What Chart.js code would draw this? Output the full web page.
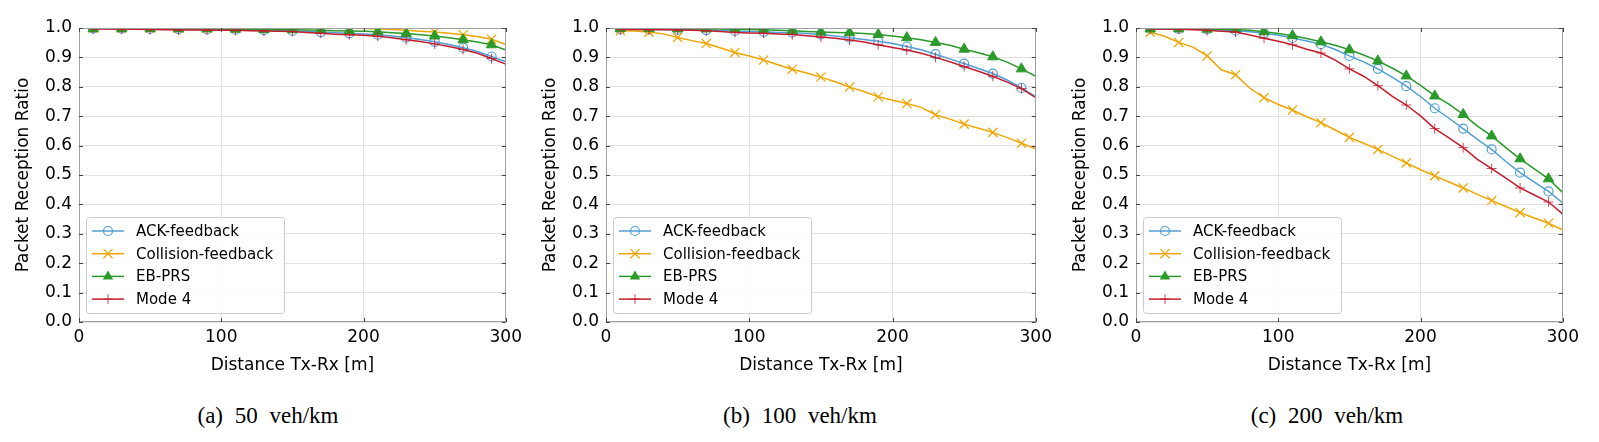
<!DOCTYPE html>
<html>
<head>
<meta charset="utf-8">
<script src="https://cdn.jsdelivr.net/npm/chart.js@4.4.1/dist/chart.umd.min.js"></script>
<style>
  html, body { margin:0; padding:0; background:#fff; }
  body { width:1599px; height:442px; position:relative; overflow:hidden; font-family:"DejaVu Sans", sans-serif; }
  .panel { position:absolute; top:0; height:390px; }
  .cap { position:absolute; top:403px; font-family:"Liberation Serif", serif; font-size:23px; word-spacing:6px;
         transform:translateX(-50%); white-space:nowrap; color:#000; }
</style>
</head>
<body>
<div class="panel" style="left:-1px;width:528px"><canvas id="prr0"></canvas></div>
<div class="panel" style="left:526px;width:531px"><canvas id="prr1"></canvas></div>
<div class="panel" style="left:1056px;width:528px"><canvas id="prr2"></canvas></div>
<div class="cap" style="left:268px">(a) 50 veh/km</div>
<div class="cap" style="left:800px">(b) 100 veh/km</div>
<div class="cap" style="left:1327px">(c) 200 veh/km</div>

<script>
/* ── data: PRR vs distance, one value every 10 m (10 … 300 m) ── */
const distances = [10,20,30,40,50,60,70,80,90,100,110,120,130,140,150,160,170,180,190,200,210,220,230,240,250,260,270,280,290,300];
const xTicks = [0, 100, 200, 300];
const yTicks = [0, 0.1, 0.2, 0.3, 0.4, 0.5, 0.6, 0.7, 0.8, 0.9, 1.0];
const seriesNames = ['ACK-feedback', 'Collision-feedback', 'EB-PRS', 'Mode 4'];

// (a) 50 veh/km
const ack50  = [.998,.998,.998,.997,.997,.996,.996,.995,.995,.994,.994,.993,.993,.992,.990,.988,.986,.984,.982,.980,.977,.973,.967,.961,.953,.944,.933,.920,.903,.885];
const col50  = [.999,.999,.999,.999,.999,.999,.999,.999,.999,.999,.999,.999,.999,.999,.999,.999,.999,.999,.999,.998,.997,.995,.992,.989,.986,.982,.977,.971,.962,.944];
const eb50   = [.998,.998,.998,.998,.998,.997,.997,.997,.997,.996,.996,.995,.995,.994,.994,.993,.992,.991,.990,.989,.987,.984,.981,.977,.973,.967,.960,.952,.943,.925];
const mode50 = [.997,.997,.996,.996,.995,.994,.993,.993,.993,.992,.992,.991,.990,.989,.988,.985,.982,.979,.977,.975,.972,.967,.960,.954,.946,.937,.927,.914,.896,.877];

// (b) 100 veh/km
const ack100  = [.995,.995,.995,.995,.994,.994,.993,.992,.990,.988,.987,.985,.984,.981,.978,.973,.967,.961,.955,.947,.937,.926,.911,.895,.879,.862,.845,.823,.796,.766];
const col100  = [.991,.990,.986,.980,.968,.957,.947,.932,.917,.905,.891,.875,.860,.847,.833,.817,.799,.784,.766,.754,.743,.730,.705,.690,.673,.659,.645,.627,.608,.589];
const eb100   = [.998,.998,.998,.998,.997,.997,.997,.997,.996,.995,.994,.992,.991,.988,.986,.985,.984,.981,.978,.973,.967,.960,.951,.941,.928,.916,.902,.884,.861,.836];
const mode100 = [.995,.995,.994,.994,.993,.992,.991,.988,.985,.983,.982,.980,.978,.974,.969,.965,.959,.952,.943,.934,.925,.914,.900,.885,.869,.853,.836,.816,.794,.763];

// (c) 200 veh/km
const ack200  = [.997,.997,.997,.996,.995,.993,.991,.987,.982,.975,.966,.956,.945,.927,.905,.885,.861,.833,.802,.767,.727,.693,.658,.621,.587,.546,.508,.476,.444,.405];
const col200  = [.986,.972,.951,.935,.905,.858,.841,.795,.763,.740,.721,.698,.678,.653,.628,.608,.587,.564,.541,.518,.497,.476,.456,.434,.413,.393,.372,.354,.336,.313];
const eb200   = [.997,.997,.997,.997,.996,.996,.995,.992,.987,.981,.974,.964,.953,.941,.926,.908,.888,.864,.837,.805,.769,.741,.706,.666,.633,.593,.555,.521,.487,.440];
const mode200 = [.997,.997,.996,.994,.992,.989,.986,.976,.965,.955,.943,.928,.915,.891,.861,.836,.804,.768,.738,.701,.658,.626,.593,.553,.522,.489,.456,.432,.408,.367];

const panels = [
  [ack50,  col50,  eb50,  mode50],
  [ack100, col100, eb100, mode100],
  [ack200, col200, eb200, mode200],
];

/* ── styling ── */
const FONT = 'DejaVu Sans';
const styles = [
  { color:'#4f9fd6', point:'circle',   r:4.5, fill:'rgba(0,0,0,0)', bw:1.2 },
  { color:'#f0a500', point:'crossRot', r:6.5, fill:'#f0a500',       bw:1.2 },
  { color:'#2a9a2a', point:'triangle', r:6,   fill:'#2a9a2a',       bw:1 },
  { color:'#c41e2e', point:'cross',    r:5,   fill:'#c41e2e',       bw:0.8 },
];

// markers on every other sample (10, 30, … 290 m), line runs on to 300 m
const markerAt = (ctx, r) => (ctx.dataIndex % 2 === 0 && ctx.dataIndex < distances.length - 1) ? r : 0;

function drawMarker(ctx, s, x, y) {
  ctx.save();
  ctx.strokeStyle = s.color; ctx.fillStyle = s.fill; ctx.lineWidth = s.bw;
  ctx.beginPath();
  if (s.point === 'circle') {
    ctx.arc(x, y, s.r, 0, Math.PI * 2); ctx.stroke();
  } else if (s.point === 'crossRot') {
    const d = s.r * 0.7;
    ctx.moveTo(x-d, y-d); ctx.lineTo(x+d, y+d); ctx.moveTo(x+d, y-d); ctx.lineTo(x-d, y+d); ctx.stroke();
  } else if (s.point === 'triangle') {
    const r = s.r;
    ctx.moveTo(x, y - r); ctx.lineTo(x + r * 0.87, y + r * 0.5); ctx.lineTo(x - r * 0.87, y + r * 0.5);
    ctx.closePath(); ctx.fill();
  } else {
    ctx.moveTo(x - s.r, y); ctx.lineTo(x + s.r, y); ctx.moveTo(x, y - s.r); ctx.lineTo(x, y + s.r); ctx.stroke();
  }
  ctx.restore();
}

// axes frame + inward ticks (matplotlib look), legend in lower left
const framePlugin = {
  id: 'frame',
  afterDatasetsDraw(chart) {
    const { ctx, chartArea: a, scales: { x, y } } = chart;
    ctx.save();
    ctx.lineWidth = 1;
    ctx.strokeStyle = '#a0a0a0';
    ctx.strokeRect(Math.round(a.left) + 0.5, Math.round(a.top) + 0.5, Math.round(a.width) - 1, Math.round(a.height) - 1);
    ctx.strokeStyle = '#444';
    ctx.beginPath();
    xTicks.forEach(v => {
      const px = Math.round(x.getPixelForValue(v)) + 0.5;
      ctx.moveTo(px, a.bottom); ctx.lineTo(px, a.bottom - 4);
      ctx.moveTo(px, a.top);    ctx.lineTo(px, a.top + 4);
    });
    yTicks.forEach(v => {
      const py = Math.round(y.getPixelForValue(v)) + 0.5;
      ctx.moveTo(a.left, py);  ctx.lineTo(a.left + 4, py);
      ctx.moveTo(a.right, py); ctx.lineTo(a.right - 4, py);
    });
    ctx.stroke();
    ctx.restore();
  },
  afterDraw(chart) {
    const { ctx, chartArea: a } = chart;
    const bx = a.left + 7, bw = 198, bh = 96, by = a.bottom - 9 - bh;
    ctx.save();
    ctx.fillStyle = 'rgba(255,255,255,0.85)';
    ctx.strokeStyle = '#cccccc'; ctx.lineWidth = 1;
    ctx.beginPath();
    ctx.roundRect(bx + 0.5, by + 0.5, bw, bh, 3);
    ctx.fill(); ctx.stroke();
    ctx.font = '15px "' + FONT + '"';
    ctx.textBaseline = 'middle';
    seriesNames.forEach((name, i) => {
      const s = styles[i];
      const ly = by + 14 + i * 22.7;
      ctx.strokeStyle = s.color; ctx.lineWidth = 1.5;
      ctx.beginPath(); ctx.moveTo(bx + 6, ly); ctx.lineTo(bx + 38, ly); ctx.stroke();
      drawMarker(ctx, s, bx + 22, ly);
      ctx.fillStyle = '#000';
      ctx.fillText(name, bx + 50, ly + 1);
    });
    ctx.restore();
  }
};

function makeChart(idx) {
  const datasets = panels[idx].map((vals, i) => {
    const s = styles[i];
    return {
      label: seriesNames[i],
      data: vals.map((v, k) => ({ x: distances[k], y: v })),
      borderColor: s.color,
      backgroundColor: s.fill,
      borderWidth: 1.5,
      pointStyle: s.point,
      pointBorderColor: s.color,
      pointBackgroundColor: s.fill,
      pointBorderWidth: s.bw,
      pointRadius: ctx => markerAt(ctx, s.r),
      pointHoverRadius: 0,
      tension: 0,
      order: 3 - i,
    };
  });

  const tickFont = { family: FONT, size: 17 };
  return new Chart(document.getElementById('prr' + idx), {
    type: 'line',
    data: { datasets },
    plugins: [framePlugin],
    options: {
      responsive: true,
      maintainAspectRatio: false,
      animation: false,
      layout: { padding: { top: 28, right: 20, left: 0, bottom: 0 } },
      plugins: { legend: { display: false }, tooltip: { enabled: false } },
      scales: {
        x: {
          type: 'linear', min: 0, max: 300,
          ticks: { stepSize: 100, color: '#000', font: tickFont, padding: 5, maxRotation: 0 },
          grid: { color: '#e2e2e2', drawTicks: false },
          border: { display: false },
          title: { display: true, text: 'Distance Tx-Rx [m]', color: '#000', font: tickFont, padding: { top: 0, bottom: 14 } },
          afterFit: s => { s.height = 68; },
        },
        y: {
          min: 0, max: 1,
          ticks: { stepSize: 0.1, color: '#000', font: tickFont, padding: 7, callback: v => Number(v).toFixed(1) },
          grid: { color: '#e2e2e2', drawTicks: false },
          border: { display: false },
          title: { display: true, text: 'Packet Reception Ratio', color: '#000', font: tickFont, padding: { top: 14, bottom: 0 } },
          afterFit: s => { s.width = 80; },
        },
      },
    },
  });
}

[0, 1, 2].forEach(makeChart);
</script>
</body>
</html>
